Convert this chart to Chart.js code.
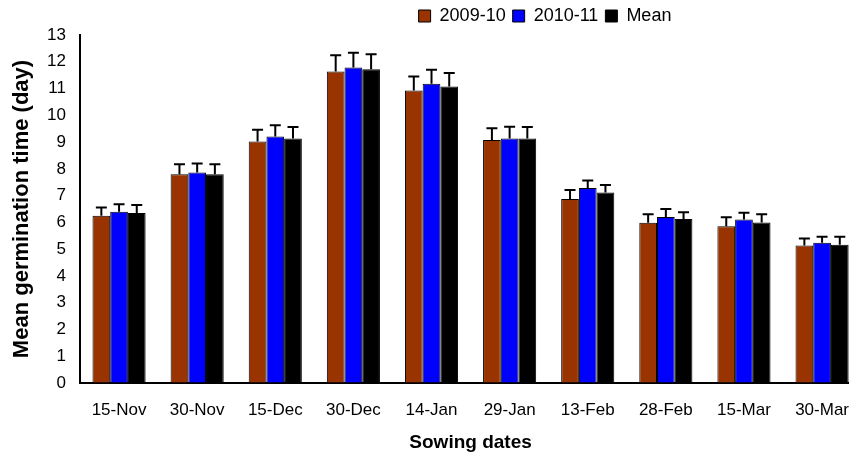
<!DOCTYPE html>
<html>
<head>
<meta charset="utf-8">
<script src="https://cdn.jsdelivr.net/npm/chart.js@4/dist/chart.umd.min.js"></script>
<style>
  html, body { margin: 0; padding: 0; background: #fff; overflow: hidden; }
  #wrap { width: 866px; height: 461px; }
</style>
</head>
<body>
<div id="wrap"><canvas id="c" width="866" height="461"></canvas></div>
<script>
const categories = ['15-Nov', '30-Nov', '15-Dec', '30-Dec', '14-Jan', '29-Jan', '13-Feb', '28-Feb', '15-Mar', '30-Mar'];
const seriesNames = ['2009-10', '2010-11', 'Mean'];
const values2009 = [6.25, 7.80, 9.02, 11.64, 10.93, 9.08, 6.87, 5.99, 5.86, 5.14];
const values2010 = [6.40, 7.86, 9.21, 11.79, 11.18, 9.13, 7.28, 6.20, 6.11, 5.24];
const valuesMean = [6.35, 7.80, 9.13, 11.72, 11.08, 9.13, 7.12, 6.13, 6.00, 5.16];
const errors2009 = [0.31, 0.37, 0.44, 0.60, 0.52, 0.44, 0.34, 0.31, 0.33, 0.26];
const errors2010 = [0.28, 0.34, 0.42, 0.55, 0.52, 0.44, 0.28, 0.30, 0.25, 0.22];
const errorsMean = [0.30, 0.37, 0.43, 0.56, 0.50, 0.43, 0.28, 0.25, 0.30, 0.30];
const yTicks = [0, 1, 2, 3, 4, 5, 6, 7, 8, 9, 10, 11, 12, 13];

const allValues = [values2009, values2010, valuesMean];
const allErrors = [errors2009, errors2010, errorsMean];
const colors = ['#993300', '#0000ff', '#000000'];

Chart.defaults.font.family = '"Liberation Sans", Arial, sans-serif';
Chart.defaults.color = '#000';

const errorBars = {
  id: 'errorBars',
  afterDatasetsDraw(chart) {
    const ctx = chart.ctx;
    const ys = chart.scales.y;
    ctx.save();
    ctx.strokeStyle = '#000';
    ctx.lineWidth = 2;
    chart.data.datasets.forEach((ds, i) => {
      const meta = chart.getDatasetMeta(i);
      meta.data.forEach((bar, j) => {
        const top = ys.getPixelForValue(allValues[i][j] + allErrors[i][j]);
        ctx.beginPath();
        ctx.moveTo(bar.x, bar.y);
        ctx.lineTo(bar.x, top);
        ctx.moveTo(bar.x - 5.5, top);
        ctx.lineTo(bar.x + 5.5, top);
        ctx.stroke();
      });
    });
    ctx.restore();
  }
};

const legendShift = {
  id: 'legendShift',
  afterLayout(chart) {
    const l = chart.legend;
    if (l) { l.left += 112; l.right += 112; }
  }
};

new Chart(document.getElementById('c'), {
  type: 'bar',
  data: {
    labels: categories,
    datasets: seriesNames.map((name, i) => ({
      label: name,
      data: allValues[i],
      backgroundColor: colors[i],
      borderColor: '#000',
      borderWidth: 1,
      barPercentage: 1.0,
      categoryPercentage: 0.68
    }))
  },
  options: {
    responsive: false,
    animation: false,
    devicePixelRatio: 1,
    layout: { padding: { top: 0, left: 0, right: 0, bottom: 0 } },
    plugins: {
      legend: {
        position: 'top',
        align: 'center',
        labels: {
          boxWidth: 12,
          boxHeight: 12,
          padding: 7,
          font: { size: 18 },
          color: '#000'
        }
      },
      tooltip: { enabled: false }
    },
    scales: {
      x: {
        grid: { display: true, drawOnChartArea: false, drawTicks: false },
        border: { display: true, color: '#000', width: 2 },
        ticks: { padding: 17, font: { size: 17 }, color: '#000', maxRotation: 0, autoSkip: false },
        title: {
          display: true,
          text: 'Sowing dates',
          font: { size: 19, weight: 'bold' },
          color: '#000',
          padding: { top: 11, bottom: 7 }
        },
        afterFit(scale) { scale.height = 78; }
      },
      y: {
        min: 0,
        max: 13,
        grid: { display: true, drawOnChartArea: false, drawTicks: false },
        border: { display: true, color: '#000', width: 2 },
        afterBuildTicks(scale) { scale.ticks = yTicks.map(v => ({ value: v })); },
        ticks: { padding: 14, font: { size: 17 }, color: '#000' },
        title: {
          display: true,
          text: 'Mean germination time (day)',
          font: { size: 22, weight: 'bold' },
          color: '#000',
          padding: { top: 9, bottom: 0 }
        },
        afterFit(scale) { scale.width = 80; }
      }
    }
  },
  plugins: [errorBars, legendShift]
});
</script>
</body>
</html>
